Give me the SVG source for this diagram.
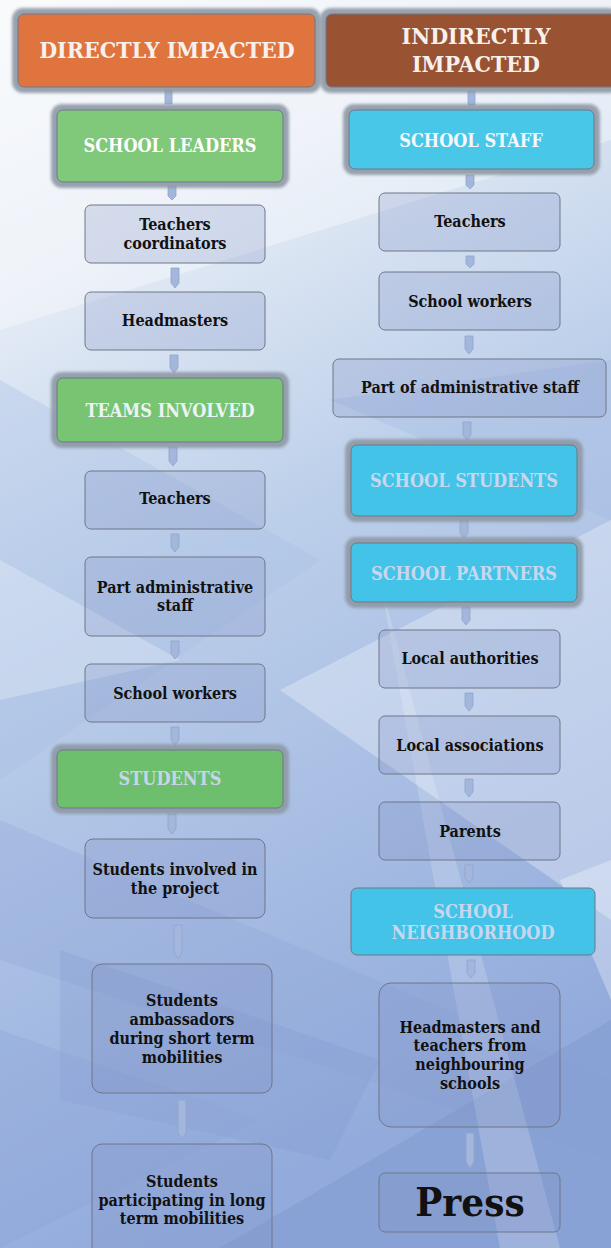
<svg xmlns="http://www.w3.org/2000/svg" width="611" height="1248" viewBox="0 0 611 1248">
<defs>
<linearGradient id="bg" x1="0" y1="0" x2="0.25" y2="1">
<stop offset="0" stop-color="#f6f8fb"/>
<stop offset="0.22" stop-color="#e6edf6"/>
<stop offset="0.5" stop-color="#bccfea"/>
<stop offset="1" stop-color="#92abdc"/>
</linearGradient>
<filter id="blur" x="-10%" y="-20%" width="120%" height="140%"><feGaussianBlur stdDeviation="1.6"/></filter>
<style>
.plain{fill:#7f8fc2;fill-opacity:0.25;stroke:#6f7787;stroke-width:1}
.frame{fill:#8e99a5;fill-opacity:0.9;filter:url(#blur)}
.hdr{stroke:#6f7787;stroke-width:1}
.t{font-family:"DejaVu Serif Condensed","DejaVu Serif",serif;font-stretch:condensed;font-weight:bold;font-size:16px;fill:#111;text-anchor:middle}
.g{font-family:"DejaVu Serif Condensed","DejaVu Serif",serif;font-stretch:condensed;font-weight:bold;font-size:18px;text-anchor:middle}
.h{font-family:"DejaVu Serif Condensed","DejaVu Serif",serif;font-stretch:condensed;font-weight:bold;font-size:23px;fill:#f6f1ec;text-anchor:middle}
.arr{fill:#a3b6dc;stroke:#90a4cc;stroke-width:0.8}
</style>
</defs>
<g id="background">
<rect width="611" height="1248" fill="url(#bg)"/>
<polygon points="0,0 611,0 611,140 0,330" fill="#ffffff" opacity="0.35"/>
<polygon points="0,380 320,560 0,780" fill="#a8bfe6" opacity="0.35"/>
<polygon points="611,520 280,690 611,920" fill="#ffffff" opacity="0.3"/>
<polygon points="330,400 611,360 611,520" fill="#9fb6e2" opacity="0.3"/>
<polygon points="0,820 611,1080 611,1160 0,960" fill="#8ea6d6" opacity="0.3"/>
<polygon points="60,950 380,1060 330,1160 60,1100" fill="#7f96cc" opacity="0.25"/>
<polygon points="611,1020 220,1248 611,1248" fill="#7f96cc" opacity="0.45"/>
<polygon points="0,1030 260,1120 0,1248" fill="#8aa3d6" opacity="0.3"/>
<polygon points="380,580 500,1248 560,1248" fill="#ffffff" opacity="0.18"/>
<polygon points="0,560 180,660 0,700" fill="#ffffff" opacity="0.25"/>
<polygon points="560,880 611,860 611,1000" fill="#ffffff" opacity="0.3"/>
</g>
<g id="connectors">
<path class="arr" d="M165,90 h7 v14 h-7 z"/>
<path class="arr" d="M168,186 h8 v10 l-4,4 l-4,-4 z"/>
<path class="arr" d="M171,268 h8 v15 l-4,5 l-4,-5 z"/>
<path class="arr" d="M170,355 h8 v13 l-4,5 l-4,-5 z"/>
<path class="arr" d="M169,447 h8 v14 l-4,5 l-4,-5 z"/>
<path class="arr" d="M171,534 h8 v13 l-4,5 l-4,-5 z"/>
<path class="arr" d="M171,641 h8 v13 l-4,5 l-4,-5 z"/>
<path class="arr" d="M171,727 h8 v13 l-4,5 l-4,-5 z"/>
<path class="arr" d="M168,814 h8 v15 l-4,5 l-4,-5 z"/>
<path class="arr" d="M174,925 h8 v28 l-4,6 l-4,-6 z"/>
<path class="arr" d="M178,1100 h8 v33 l-4,6 l-4,-6 z"/>
<path class="arr" d="M468,91 h7 v14 h-7 z"/>
<path class="arr" d="M466,175 h8 v10 l-4,4 l-4,-4 z"/>
<path class="arr" d="M466,256 h8 v8 l-4,4 l-4,-4 z"/>
<path class="arr" d="M465,336 h8 v13 l-4,5 l-4,-5 z"/>
<path class="arr" d="M463,422 h8 v13 l-4,5 l-4,-5 z"/>
<path class="arr" d="M460,520 h8 v13 l-4,5 l-4,-5 z"/>
<path class="arr" d="M462,607 h8 v13 l-4,5 l-4,-5 z"/>
<path class="arr" d="M465,693 h8 v13 l-4,5 l-4,-5 z"/>
<path class="arr" d="M465,779 h8 v13 l-4,5 l-4,-5 z"/>
<path class="arr" d="M465,865 h8 v13 l-4,5 l-4,-5 z"/>
<path class="arr" d="M467,960 h8 v13 l-4,5 l-4,-5 z"/>
<path class="arr" d="M466,1133 h8 v29 l-4,6 l-4,-6 z"/>
</g>
<g id="n-directly">
<rect class="frame" x="12" y="8" width="309" height="85" rx="11"/>
<rect class="hdr" x="18" y="14" width="297" height="73" rx="6" fill="#e0743e"/>
<text class="h" x="167" y="58">DIRECTLY IMPACTED</text>
</g>
<g id="n-indirectly">
<rect class="frame" x="320" y="8" width="300" height="85" rx="11"/>
<rect class="hdr" x="326" y="14" width="292" height="73" rx="6" fill="#9a5332"/>
<text class="h" x="476" y="44">INDIRECTLY</text>
<text class="h" x="476" y="72">IMPACTED</text>
</g>
<g id="n-school-leaders">
<rect class="frame" x="51" y="104" width="238" height="84" rx="11"/>
<rect class="hdr" x="57" y="110" width="226" height="72" rx="6" fill="#80c87a"/>
<text class="g" x="170" y="152" fill="#ffffff">SCHOOL LEADERS</text>
</g>
<g id="n-teachers-coord">
<rect class="plain" x="85" y="205" width="180" height="58" rx="6"/>
<text class="t" x="175" y="230">Teachers</text>
<text class="t" x="175" y="249">coordinators</text>
</g>
<g id="n-headmasters">
<rect class="plain" x="85" y="292" width="180" height="58" rx="6"/>
<text class="t" x="175" y="326">Headmasters</text>
</g>
<g id="n-teams">
<rect class="frame" x="51" y="372" width="238" height="76" rx="11"/>
<rect class="hdr" x="57" y="378" width="226" height="64" rx="6" fill="#77c473"/>
<text class="g" x="170" y="417" fill="#eef2f6">TEAMS INVOLVED</text>
</g>
<g id="n-teachers-l">
<rect class="plain" x="85" y="471" width="180" height="58" rx="6"/>
<text class="t" x="175" y="504">Teachers</text>
</g>
<g id="n-part-admin-l">
<rect class="plain" x="85" y="557" width="180" height="79" rx="6"/>
<text class="t" x="175" y="593">Part administrative</text>
<text class="t" x="175" y="611">staff</text>
</g>
<g id="n-school-workers-l">
<rect class="plain" x="85" y="664" width="180" height="58" rx="6"/>
<text class="t" x="175" y="699">School workers</text>
</g>
<g id="n-students">
<rect class="frame" x="51" y="744" width="238" height="70" rx="11"/>
<rect class="hdr" x="57" y="750" width="226" height="58" rx="6" fill="#6dbf6d"/>
<text class="g" x="170" y="785" fill="#c9d4ea">STUDENTS</text>
</g>
<g id="n-students-involved">
<rect class="plain" x="85" y="839" width="180" height="79" rx="8"/>
<text class="t" x="175" y="875">Students involved in</text>
<text class="t" x="175" y="894">the project</text>
</g>
<g id="n-ambassadors">
<rect class="plain" x="92" y="964" width="180" height="129" rx="10"/>
<text class="t" x="182" y="1006">Students</text>
<text class="t" x="182" y="1025">ambassadors</text>
<text class="t" x="182" y="1044">during short term</text>
<text class="t" x="182" y="1063">mobilities</text>
</g>
<g id="n-long-term">
<rect class="plain" x="92" y="1144" width="180" height="120" rx="10"/>
<text class="t" x="182" y="1187">Students</text>
<text class="t" x="182" y="1206">participating in long</text>
<text class="t" x="182" y="1224">term mobilities</text>
</g>
<g id="n-school-staff">
<rect class="frame" x="343" y="104" width="257" height="71" rx="11"/>
<rect class="hdr" x="349" y="110" width="245" height="59" rx="6" fill="#48c7e9"/>
<text class="g" x="471" y="147" fill="#f4f8fb">SCHOOL STAFF</text>
</g>
<g id="n-teachers-r">
<rect class="plain" x="379" y="193" width="181" height="58" rx="6"/>
<text class="t" x="470" y="227">Teachers</text>
</g>
<g id="n-school-workers-r">
<rect class="plain" x="379" y="272" width="181" height="58" rx="6"/>
<text class="t" x="470" y="307">School workers</text>
</g>
<g id="n-part-admin-r">
<rect class="plain" x="333" y="359" width="273" height="58" rx="6"/>
<text class="t" x="470" y="393">Part of administrative staff</text>
</g>
<g id="n-school-students">
<rect class="frame" x="345" y="439" width="238" height="83" rx="11"/>
<rect class="hdr" x="351" y="445" width="226" height="71" rx="6" fill="#42c3e7"/>
<text class="g" x="464" y="487" fill="#c9d7ee">SCHOOL STUDENTS</text>
</g>
<g id="n-school-partners">
<rect class="frame" x="345" y="537" width="238" height="71" rx="11"/>
<rect class="hdr" x="351" y="543" width="226" height="59" rx="6" fill="#42c3e7"/>
<text class="g" x="464" y="580" fill="#c9d7ee">SCHOOL PARTNERS</text>
</g>
<g id="n-local-authorities">
<rect class="plain" x="379" y="630" width="181" height="58" rx="6"/>
<text class="t" x="470" y="664">Local authorities</text>
</g>
<g id="n-local-associations">
<rect class="plain" x="379" y="716" width="181" height="58" rx="6"/>
<text class="t" x="470" y="751">Local associations</text>
</g>
<g id="n-parents">
<rect class="plain" x="379" y="802" width="181" height="58" rx="6"/>
<text class="t" x="470" y="837">Parents</text>
</g>
<g id="n-neighborhood">
<rect class="hdr" x="351" y="888" width="244" height="67" rx="6" fill="#42c3e7"/>
<text class="g" x="473" y="918" fill="#c9d7ee">SCHOOL</text>
<text class="g" x="473" y="939" fill="#c9d7ee">NEIGHBORHOOD</text>
</g>
<g id="n-neighbour-schools">
<rect class="plain" x="379" y="983" width="181" height="144" rx="12"/>
<text class="t" x="470" y="1033">Headmasters and</text>
<text class="t" x="470" y="1051">teachers from</text>
<text class="t" x="470" y="1070">neighbouring</text>
<text class="t" x="470" y="1089">schools</text>
</g>
<g id="n-press">
<rect class="plain" x="379" y="1173" width="181" height="59" rx="6"/>
<text class="t" x="470" y="1216" style="font-size:40px">Press</text>
</g>
</svg>
